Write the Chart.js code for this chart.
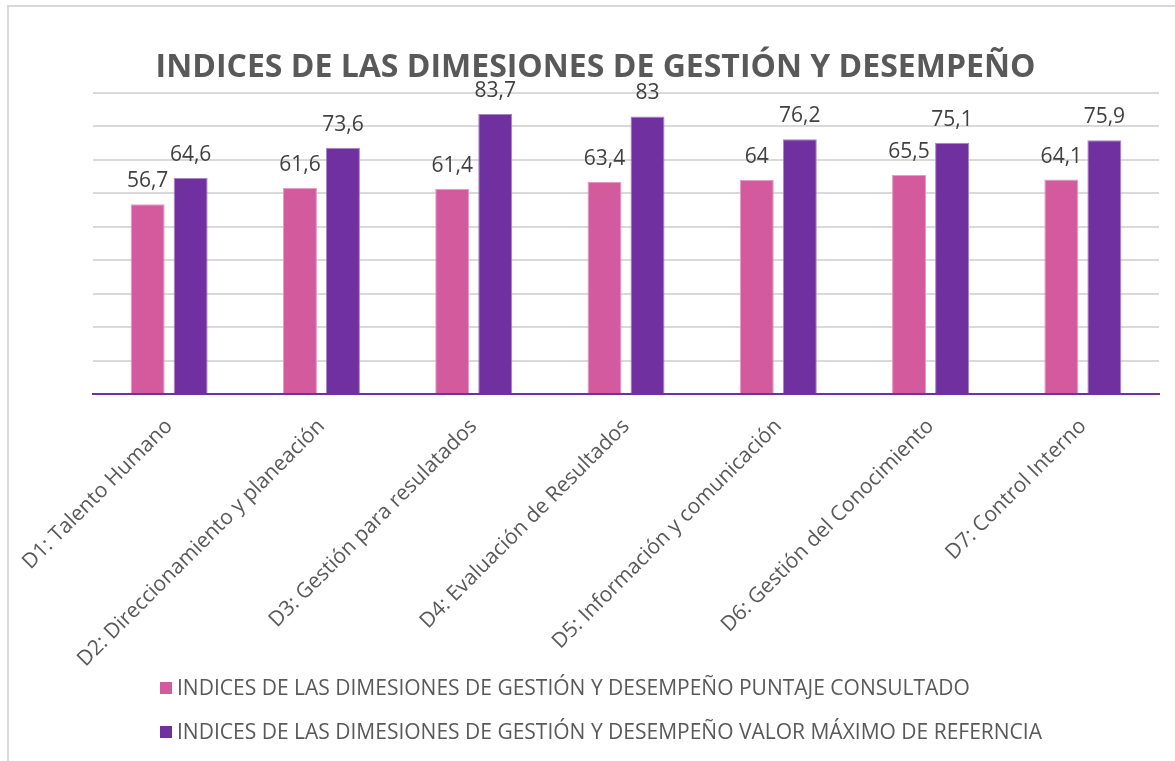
<!DOCTYPE html>
<html>
<head>
<meta charset="utf-8">
<script src="https://cdn.jsdelivr.net/npm/chart.js@4.4.1/dist/chart.umd.min.js"></script>
<style>
  html, body { margin: 0; padding: 0; background: #ffffff; }
  #wrap { position: relative; width: 1175px; height: 761px; overflow: hidden; }
  #frame { position: absolute; left: 7px; top: 5px; width: 1200px; height: 800px; border: 2px solid #d9d9d9; box-sizing: border-box; pointer-events: none; }
  canvas { position: absolute; left: 0; top: 0; }
</style>
</head>
<body>
<div id="wrap">
  <canvas id="c" width="1175" height="761"></canvas>
  <div id="frame"></div>
</div>
<script>
const categories = [
  "D1: Talento Humano",
  "D2: Direccionamiento y planeación",
  "D3: Gestión para resulatados",
  "D4: Evaluación de Resultados",
  "D5: Información y comunicación",
  "D6: Gestión del Conocimiento",
  "D7: Control Interno"
];
const puntajeConsultado = [56.7, 61.6, 61.4, 63.4, 64, 65.5, 64.1];
const valorMaximo = [64.6, 73.6, 83.7, 83, 76.2, 75.1, 75.9];
const seriesNames = [
  "INDICES DE LAS DIMESIONES DE GESTIÓN Y DESEMPEÑO PUNTAJE CONSULTADO",
  "INDICES DE LAS DIMESIONES DE GESTIÓN Y DESEMPEÑO VALOR MÁXIMO DE REFERNCIA"
];
const chartTitle = "INDICES DE LAS DIMESIONES DE GESTIÓN Y DESEMPEÑO";
const yTicks = { min: 0, max: 90, step: 10 };

const PINK = "#d45a9e";
const PURPLE = "#7030a0";

const valueLabels = {
  id: "valueLabels",
  afterDatasetsDraw(chart) {
    const ctx = chart.ctx;
    ctx.save();
    ctx.font = "21px 'Open Sans'";
    ctx.fillStyle = "#404040";
    ctx.textAlign = "center";
    ctx.textBaseline = "alphabetic";
    chart.data.datasets.forEach((ds, i) => {
      const meta = chart.getDatasetMeta(i);
      meta.data.forEach((bar, j) => {
        const txt = String(ds.data[j]).replace(".", ",");
        ctx.fillText(txt, bar.x, bar.y - 17);
      });
    });
    ctx.restore();
  }
};

const customLegend = {
  id: "customLegend",
  afterDraw(chart) {
    const ctx = chart.ctx;
    ctx.save();
    ctx.font = "21px 'Open Sans'";
    ctx.textAlign = "left";
    ctx.textBaseline = "middle";
    const rows = [chart.height - 73, chart.height - 29];
    chart.data.datasets.forEach((ds, i) => {
      const y = rows[i];
      ctx.fillStyle = ds.backgroundColor;
      ctx.fillRect(160, y - 6, 12, 12);
      ctx.fillStyle = "#595959";
      ctx.fillText(ds.label, 177, y + 1);
    });
    ctx.restore();
  }
};

new Chart(document.getElementById("c"), {
  type: "bar",
  data: {
    labels: categories,
    datasets: [
      { label: seriesNames[0], data: puntajeConsultado, backgroundColor: PINK, borderColor: "#e79ac4", borderWidth: 1 },
      { label: seriesNames[1], data: valorMaximo, backgroundColor: PURPLE, borderColor: "#a784c4", borderWidth: 1 }
    ]
  },
  options: {
    responsive: false,
    animation: false,
    devicePixelRatio: 1,
    layout: { padding: { left: 16, right: 0, top: 0, bottom: 60 } },
    datasets: { bar: { categoryPercentage: 0.565, barPercentage: 0.79 } },
    plugins: {
      legend: { display: false },
      tooltip: { enabled: false },
      title: {
        display: true,
        text: chartTitle,
        color: "#595959",
        font: { family: "'Open Sans'", size: 32, weight: "bold", lineHeight: 1.2 },
        padding: { top: 49, bottom: 5.6 }
      }
    },
    scales: {
      x: {
        grid: { display: false, drawTicks: false },
        border: { display: true, color: PURPLE, width: 2 },
        ticks: {
          autoSkip: false,
          maxRotation: 45,
          minRotation: 45,
          color: "#595959",
          padding: 20,
          font: { family: "'Open Sans'", size: 21 }
        },
        afterFit(s) { s.paddingLeft = 0; s.paddingRight = 0; s.height = 307; }
      },
      y: {
        position: "left",
        min: yTicks.min,
        max: yTicks.max,
        ticks: { display: false, stepSize: yTicks.step },
        grid: { color: "#d9d9d9", lineWidth: 2, drawTicks: false },
        border: { display: false },
        afterFit(s) { s.width = 77; }
      },
      yRight: {
        position: "right",
        display: true,
        min: yTicks.min,
        max: yTicks.max,
        ticks: { display: false },
        grid: { display: false, drawTicks: false },
        border: { display: false },
        afterFit(s) { s.width = 16; }
      }
    }
  },
  plugins: [valueLabels, customLegend]
});
</script>
</body>
</html>
